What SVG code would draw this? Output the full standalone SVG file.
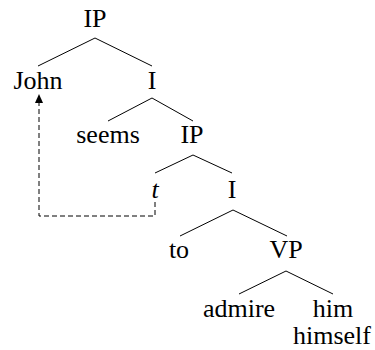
<svg xmlns="http://www.w3.org/2000/svg" width="375" height="350" viewBox="0 0 375 350">
<style>
.lbl{font-family:'Liberation Serif','Times New Roman',serif;font-size:26px;fill:#000;text-anchor:middle}
.e{stroke:#000;stroke-width:1;fill:none}
.d{stroke:#000;stroke-width:1;fill:none;stroke-dasharray:5,3}
</style>
<g id="connectors">
<line class="e" x1="95" y1="38" x2="38" y2="66"/>
<line class="e" x1="95" y1="38" x2="152" y2="66"/>
<line class="e" x1="152" y1="98" x2="108" y2="121"/>
<line class="e" x1="152" y1="98" x2="193" y2="121"/>
<line class="e" x1="193" y1="155" x2="155" y2="173"/>
<line class="e" x1="193" y1="155" x2="232" y2="173"/>
<line class="e" x1="233" y1="210" x2="180" y2="236"/>
<line class="e" x1="233" y1="210" x2="287" y2="236"/>
<line class="e" x1="286" y1="271" x2="239" y2="294"/>
<line class="e" x1="286" y1="271" x2="333" y2="294"/>
<polyline class="d" points="155,202 155,216 39,216 39,103"/>
<polygon points="39,94 35,103 43,103" fill="#000"/>
</g>
<g id="n-ip1"><text class="lbl" x="95" y="27">IP</text></g>
<g id="n-john"><text class="lbl" x="38" y="89">John</text></g>
<g id="n-i1"><text class="lbl" x="152" y="89">I</text></g>
<g id="n-seems"><text class="lbl" x="108" y="143">seems</text></g>
<g id="n-ip2"><text class="lbl" x="192" y="143">IP</text></g>
<g id="n-t"><text class="lbl" x="155" y="198" font-style="italic">t</text></g>
<g id="n-i2"><text class="lbl" x="232" y="198">I</text></g>
<g id="n-to"><text class="lbl" x="179" y="258">to</text></g>
<g id="n-vp"><text class="lbl" x="286" y="258">VP</text></g>
<g id="n-admire"><text class="lbl" x="239" y="317">admire</text></g>
<g id="n-him"><text class="lbl" x="333" y="317">him</text><text class="lbl" x="332" y="344">himself</text></g>
</svg>
